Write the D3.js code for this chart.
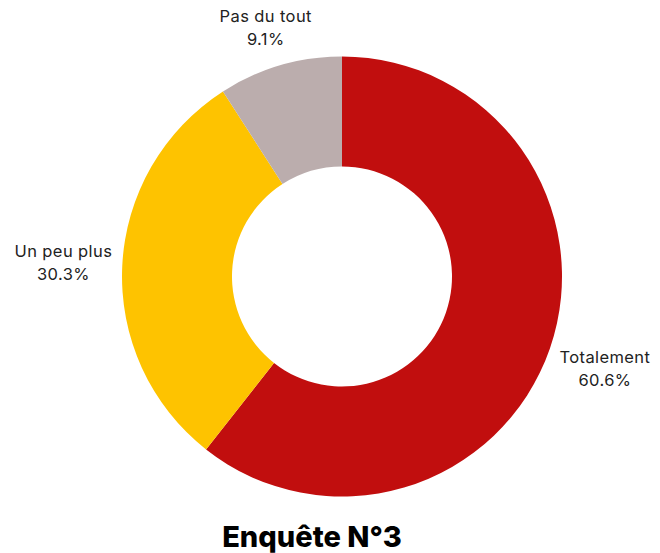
<!DOCTYPE html>
<html><head><meta charset="utf-8">
<script src="https://cdn.jsdelivr.net/npm/d3@7"></script>
<style>body{margin:0;background:#fff}svg{display:block}</style>
</head><body>
<svg id="c" width="660" height="553"></svg>
<script>
const categories = ["Totalement", "Un peu plus", "Pas du tout"];
const values = [60.6, 30.3, 9.1];
const colors = ["#C10E0E", "#FEC300", "#BBADAD"];
const title = "Enquête N°3";

const W = 660, H = 553;
const cx = 342, cy = 276.5, R = 220, r0 = 110;
const font = "Inter, 'Open Sans', sans-serif";
const svg = d3.select("#c");
const g = svg.append("g").attr("transform", `translate(${cx},${cy})`);

const pie = d3.pie().sort(null).value(d => d.v);
const data = categories.map((c, i) => ({c, v: values[i], col: colors[i]}));
const arcs = pie(data);
const arc = d3.arc().innerRadius(r0).outerRadius(R);

g.selectAll("path").data(arcs).join("path")
  .attr("d", arc).attr("fill", d => d.data.col);

const labelR = R + 8;
arcs.forEach(a => {
  const m = (a.startAngle + a.endAngle) / 2;
  const s = Math.sin(m), c = Math.cos(m);
  const px = labelR * s, py = -labelR * c;
  const t = g.append("text").attr("font-family", font).attr("font-size", 16.5)
    .attr("letter-spacing", 0.4)
    .attr("fill", "#222").attr("text-anchor", "middle");
  const l1 = t.append("tspan").text(a.data.c);
  const l2 = t.append("tspan").text(a.data.v.toFixed(1) + "%");
  const w = Math.max(l1.node().getComputedTextLength(), l2.node().getComputedTextLength());
  let x, yTop;
  const lh = 23;
  if (Math.abs(c) > 0.8) {
    x = px - 12;
    yTop = c > 0 ? py - 7 - 2 * lh : py + 7;
  } else {
    x = s > 0 ? px + w / 2 + 2 : px - w / 2 - 2;
    yTop = py - c * 55 - lh;
  }
  l1.attr("x", x).attr("y", yTop + 17);
  l2.attr("x", x).attr("y", yTop + 17 + lh);
});

svg.append("text").attr("x", W / 2 - 18).attr("y", 547)
  .attr("text-anchor", "middle").attr("font-family", font)
  .attr("font-weight", 800).attr("font-size", 29).attr("fill", "#000")
  .text(title);
</script>
</body></html>
